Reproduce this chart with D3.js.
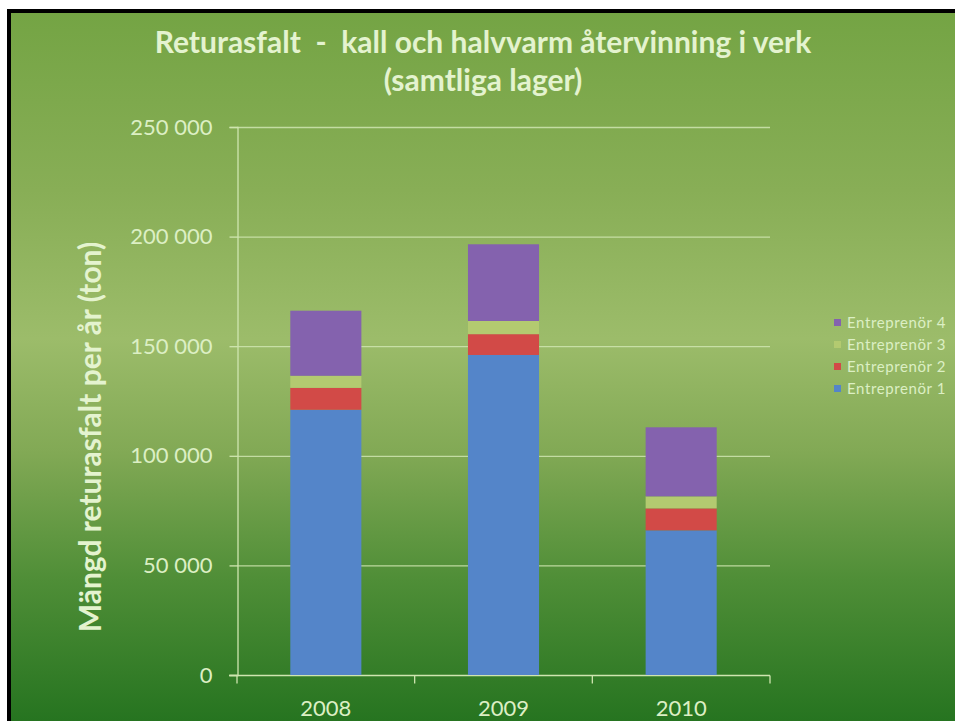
<!DOCTYPE html>
<html>
<head>
<meta charset="utf-8">
<title>Returasfalt</title>
<script src="https://d3js.org/d3.v7.min.js"></script>
<style>
body { margin: 0; padding: 0; background: white; }
svg { display: block; }
</style>
</head>
<body>
<svg id="chart" width="955" height="721"></svg>
<script>

// data
var years = ["2008", "2009", "2010"];
var seriesNames = ["Entreprenör 1", "Entreprenör 2", "Entreprenör 3", "Entreprenör 4"];
var entreprenor1 = [121000, 146000, 66000];
var entreprenor2 = [10000, 9500, 10000];
var entreprenor3 = [5500, 6000, 5500];
var entreprenor4 = [29700, 35000, 31500];
var yTicks = [0, 50000, 100000, 150000, 200000, 250000];

var colors = ["#5485c9", "#d24a47", "#b3ca70", "#8462ae"];

// build rows for stacking
var rows = years.map(function(y, i) {
  return {year: y,
    "Entreprenör 1": entreprenor1[i],
    "Entreprenör 2": entreprenor2[i],
    "Entreprenör 3": entreprenor3[i],
    "Entreprenör 4": entreprenor4[i]};
});

var svg = d3.select("#chart");

// background gradient
var defs = svg.append("defs");
var grad = defs.append("linearGradient")
  .attr("id", "bg").attr("x1", 0).attr("y1", 0).attr("x2", 0).attr("y2", 1);
grad.append("stop").attr("offset", "0%").attr("stop-color", "#74a444");
grad.append("stop").attr("offset", "25%").attr("stop-color", "#88ae56");
grad.append("stop").attr("offset", "46%").attr("stop-color", "#9cbc6a");
grad.append("stop").attr("offset", "62%").attr("stop-color", "#82a955");
grad.append("stop").attr("offset", "80%").attr("stop-color", "#4f8e37");
grad.append("stop").attr("offset", "100%").attr("stop-color", "#267420");

svg.append("rect").attr("x", 7).attr("y", 9).attr("width", 948).attr("height", 712).attr("fill", "black");
svg.append("rect").attr("x", 11).attr("y", 13).attr("width", 944).attr("height", 708).attr("fill", "url(#bg)");

// scales
var x = d3.scaleBand().domain(years).range([237, 770]).padding(0);
var y = d3.scaleLinear().domain([0, 250000]).range([675, 127]);

var lightText = "#dcefc4";
var lineCol = "#cfe5b0";

// gridlines
svg.append("g").selectAll("line")
  .data(yTicks.slice(1))
  .enter().append("line")
  .attr("x1", 237).attr("x2", 770)
  .attr("y1", function(d) { return y(d) + 0.5; })
  .attr("y2", function(d) { return y(d) + 0.5; })
  .attr("stroke", lineCol).attr("stroke-opacity", 0.85).attr("stroke-width", 1.3);

// y axis
var yAxis = d3.axisLeft(y).tickValues(yTicks).tickSize(8).tickPadding(17)
  .tickFormat(function(d) { return d3.format(",")(d).replace(/,/g, " "); });
var gy = svg.append("g").attr("transform", "translate(237.5,0)").call(yAxis);
gy.select(".domain").attr("stroke", lineCol).attr("stroke-width", 1.3);
gy.selectAll(".tick line").attr("stroke", lineCol).attr("stroke-width", 1.3);
gy.selectAll(".tick text").attr("fill", lightText)
  .style("font-family", "Lato, sans-serif").style("font-size", "22px");

// x axis - ticks at category boundaries
var gx = svg.append("g").attr("transform", "translate(0,675.5)");
gx.append("line").attr("x1", 229).attr("x2", 770).attr("stroke", lineCol).attr("stroke-width", 1.3);
gx.selectAll("line.tk")
  .data(years.concat(["end"]))
  .enter().append("line").attr("class", "tk")
  .attr("x1", function(d, i) { return i < years.length ? x(d) : x.range()[1]; })
  .attr("x2", function(d, i) { return i < years.length ? x(d) : x.range()[1]; })
  .attr("y1", 0).attr("y2", 8)
  .attr("stroke", lineCol).attr("stroke-width", 1.3);
gx.selectAll("text")
  .data(years)
  .enter().append("text")
  .attr("x", function(d) { return x(d) + x.bandwidth() / 2; })
  .attr("y", 40)
  .attr("text-anchor", "middle")
  .attr("fill", lightText)
  .style("font-family", "Lato, sans-serif").style("font-size", "22px")
  .text(function(d) { return d; });

// stacked bars
var stack = d3.stack().keys(seriesNames);
var layers = stack(rows);
var barW = x.bandwidth() * 0.4;

svg.append("g").selectAll("g")
  .data(layers)
  .enter().append("g")
  .attr("fill", function(d, i) { return colors[i]; })
  .selectAll("rect")
  .data(function(d) { return d; })
  .enter().append("rect")
  .attr("x", function(d) { return x(d.data.year) + (x.bandwidth() - barW) / 2; })
  .attr("y", function(d) { return y(d[1]); })
  .attr("width", barW)
  .attr("height", function(d) { return y(d[0]) - y(d[1]); });

// title
var title = svg.append("text")
  .attr("text-anchor", "middle")
  .attr("fill", "#e4f3cf")
  .style("font-family", "Lato, sans-serif").style("font-weight", "bold").style("font-size", "30px");
title.append("tspan").attr("x", 483).attr("y", 53).text("Returasfalt  -  kall och halvvarm återvinning i verk")
  .attr("xml:space", "preserve");
title.append("tspan").attr("x", 483).attr("y", 91).text("(samtliga lager)");

// y axis title
svg.append("text")
  .attr("transform", "translate(101,437) rotate(-90)")
  .attr("text-anchor", "middle")
  .attr("fill", "#e4f3cf")
  .style("font-family", "Lato, sans-serif").style("font-weight", "bold").style("font-size", "30px")
  .text("Mängd returasfalt per år (ton)");

// legend
var legendOrder = seriesNames.slice().reverse();
var lg = svg.append("g").attr("transform", "translate(834,323)");
var item = lg.selectAll("g")
  .data(legendOrder)
  .enter().append("g")
  .attr("transform", function(d, i) { return "translate(0," + (i * 22) + ")"; });
item.append("rect")
  .attr("x", 0).attr("y", -4).attr("width", 7).attr("height", 7)
  .attr("fill", function(d) { return colors[seriesNames.indexOf(d)]; });
item.append("text")
  .attr("x", 13).attr("y", 5)
  .attr("fill", lightText)
  .style("font-family", "Lato, sans-serif").style("font-size", "15px")
  .style("letter-spacing", "0.6px")
  .text(function(d) { return d; });

</script>
</body>
</html>
